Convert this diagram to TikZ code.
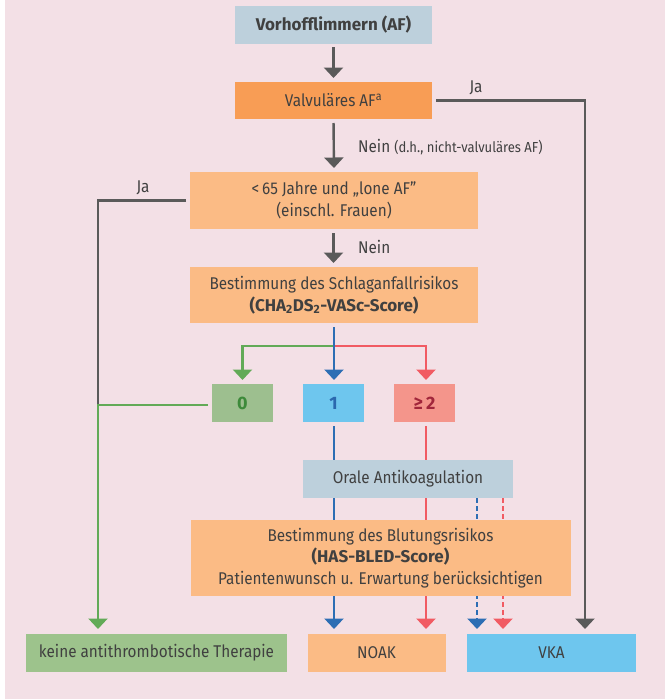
\documentclass[tikz,border=0pt]{standalone}
\usepackage{fontspec}
\setmainfont{Fira Sans}[FakeStretch=0.9, BoldFeatures={FakeStretch=1.0}]
\usetikzlibrary{arrows.meta}
\definecolor{bgpink}{HTML}{F3E0E6}
\definecolor{boxgrey}{HTML}{BDD0DC}
\definecolor{boxorange}{HTML}{F89D55}
\definecolor{boxlight}{HTML}{FBBB85}
\definecolor{boxgreen}{HTML}{9DBF8F}
\definecolor{boxgreenb}{HTML}{9DC38C}
\definecolor{boxblue}{HTML}{6EC6EE}
\definecolor{boxsalmon}{HTML}{F4958B}
\definecolor{txt}{HTML}{404040}
\definecolor{lgrey}{HTML}{5A5A5A}
\definecolor{lgreen}{HTML}{62AA57}
\definecolor{lblue}{HTML}{2D6EB4}
\definecolor{lred}{HTML}{F15B63}
\definecolor{tgreen}{HTML}{3D8A3A}
\definecolor{tblue}{HTML}{2B68AE}
\definecolor{tred}{HTML}{A1263B}
\pgfdeclarelayer{bg}
\pgfdeclarelayer{lines}
\pgfsetlayers{bg,lines,main}
\tikzset{
  x=1pt, y=-1pt,
  box/.style={inner sep=0pt, outer sep=0pt, align=center, text=txt,
    font=\fontsize{17}{21.5}\selectfont},
  conn/.style={line width=2.4pt},
  tip/.style={-{Triangle[width=19pt,length=10.5pt]}},
  lbl/.style={inner sep=0pt, text=txt, font=\fontsize{17}{20}\selectfont},
  dsh/.style={dash pattern=on 5pt off 3pt},
}
\begin{document}
\begin{tikzpicture}
\useasboundingbox (0,0) rectangle (665,699);
\begin{pgfonlayer}{bg}
\fill[bgpink] (5,0) rectangle (665,699);
\end{pgfonlayer}

\node[box, fill=boxgrey, minimum width=197pt, minimum height=38pt] (vof) at (333.5,25) {\bfseries Vorhofflimmern (AF)};
\node[box, fill=boxorange, minimum width=197pt, minimum height=37pt] (valv) at (333.5,100.5) {Valvuläres AF\textsuperscript{a}};
\node[box, fill=boxlight, minimum width=288pt, minimum height=57pt] (lone) at (334,200.5) {<\,65 Jahre und „lone AF”\\(einschl. Frauen)};
\node[box, fill=boxlight, minimum width=288pt, minimum height=56pt] (schlag) at (334,295) {Bestimmung des Schlaganfallrisikos\\\bfseries (CHA\textsubscript{2}DS\textsubscript{2}-VASc-Score)};
\node[box, fill=boxgreen, minimum width=61pt, minimum height=38pt, text=tgreen, font=\fontsize{18}{21}\selectfont\bfseries] (s0) at (242.5,403) {0};
\node[box, fill=boxblue, minimum width=61pt, minimum height=38pt, text=tblue, font=\fontsize{18}{21}\selectfont\bfseries] (s1) at (333.5,403) {1};
\node[box, fill=boxsalmon, minimum width=61pt, minimum height=38pt, text=tred, font=\fontsize{18}{21}\selectfont\bfseries] (s2) at (424.5,403) {≥\,2};
\node[box, fill=boxgrey, minimum width=210pt, minimum height=38pt] (oral) at (408,479) {Orale Antikoagulation};
\node[box, fill=boxlight, minimum width=380pt, minimum height=76pt] (blut) at (380.5,558) {Bestimmung des Blutungsrisikos\\\textbf{(HAS-BLED-Score)}\\Patientenwunsch u. Erwartung berücksichtigen};
\node[box, fill=boxgreenb, minimum width=261pt, minimum height=38pt] (keine) at (156.5,653) {keine antithrombotische Therapie};
\node[box, fill=boxlight, minimum width=138pt, minimum height=38pt] (noak) at (376.5,653) {NOAK};
\node[box, fill=boxblue, minimum width=169pt, minimum height=38pt] (vka) at (551.5,653) {VKA};

\node[lbl] (ja1) at (476,88) {Ja};
\node[lbl] (ja2) at (143,188) {Ja};
\node[lbl, anchor=west] (nein1) at (358,147) {Nein {\fontsize{14.5}{17}\selectfont (d.h., nicht-valvuläres AF)}};
\node[lbl, anchor=west] (nein2) at (358,247) {Nein};

\coordinate (jaR) at (585,100.5);
\coordinate (jaL) at (98,200.5);
\coordinate (gL) at (98,405);
\coordinate (br) at (334,346);

\begin{pgfonlayer}{lines}
\draw[conn, lgrey, tip, shorten <=3pt, shorten >=4pt] (vof.south) -- (valv.north);
\draw[conn, lgrey, tip, shorten <=4pt, shorten >=4pt] (valv.south) -- (lone.north);
\draw[conn, lgrey, tip, shorten <=4pt, shorten >=4pt] (lone.south -| valv.south) -- (schlag.north -| valv.south);
\draw[conn, lgrey, tip, shorten >=5pt] ([xshift=4pt]valv.east) -- (jaR) -- (jaR |- vka.north);
\draw[conn, lgrey] ([xshift=-4pt]lone.west) -- (jaL) -- (gL);
\draw[conn, lgreen, tip, shorten >=5pt] ([xshift=-4pt]s0.west |- gL) -- (gL) -- (gL |- keine.north);
\draw[conn, lgreen, tip, shorten >=4pt] (br) -| (s0.north);
\draw[conn, lred, tip, shorten >=4pt] (br) -| ([xshift=1.5pt]s2.north);
\draw[conn, lblue, tip, shorten <=4pt, shorten >=4pt] (schlag.south -| br) -- (s1.north -| br);
\draw[conn, lblue, tip, shorten <=4pt, shorten >=5pt] (s1.south -| br) -- (noak.north -| br);
\draw[conn, lred, tip, shorten <=4pt, shorten >=5pt] ([xshift=1.5pt]s2.south) -- ([xshift=1.5pt]s2.south |- noak.north);
\draw[conn, lblue, dsh, tip, shorten >=5pt] (oral.south -| 477,0) -- (vka.north -| 477,0);
\draw[conn, lred, dsh, tip, shorten >=5pt] (oral.south -| 503,0) -- (vka.north -| 503,0);
\end{pgfonlayer}
\end{tikzpicture}
\end{document}
